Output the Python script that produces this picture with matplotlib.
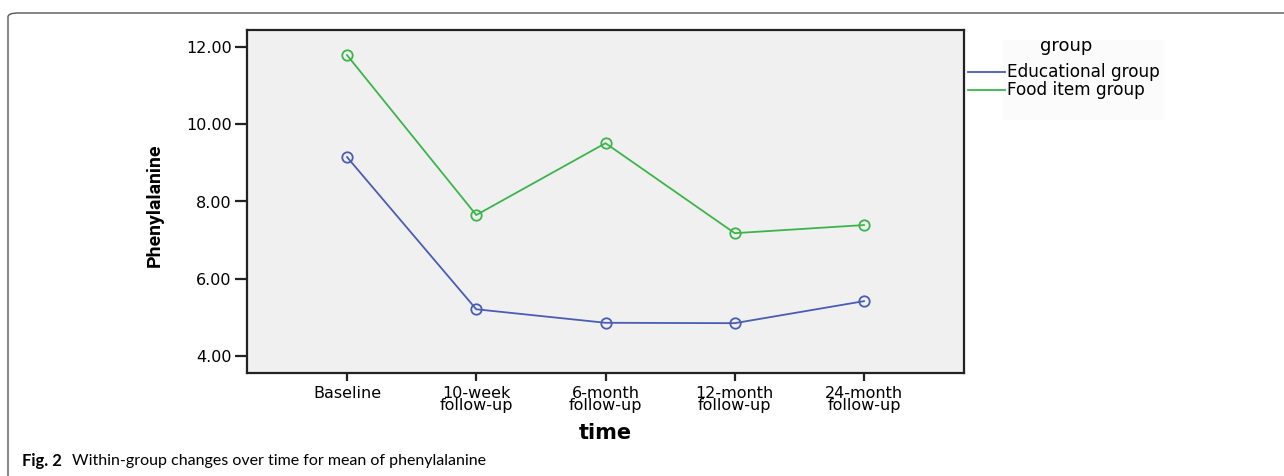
import matplotlib
matplotlib.use("Agg")
import matplotlib.pyplot as plt
from matplotlib.lines import Line2D
from matplotlib.patches import FancyBboxPatch

# data
time_labels = ["Baseline", "10-week\nfollow-up", "6-month\nfollow-up",
               "12-month\nfollow-up", "24-month\nfollow-up"]
group_names = ["Educational group", "Food item group"]
educational = [9.15, 5.21, 4.86, 4.85, 5.42]
food_item = [11.79, 7.65, 9.51, 7.18, 7.39]
y_ticks = [4.0, 6.0, 8.0, 10.0, 12.0]

COLORS = ["#4a5cb4", "#3bb54a"]
W, H = 1284, 476


def fx(px):
    return px / W


def fy(py):
    return 1 - py / H


def main():
    fig = plt.figure(figsize=(12.84, 4.76), dpi=100)

    # outer rounded frame, open to the right and bottom
    frame = FancyBboxPatch((fx(8), fy(520)), fx(1320), fy(13) - fy(520),
                           boxstyle="round,pad=0,rounding_size=0.008",
                           transform=fig.transFigure, fill=False,
                           edgecolor="#555555", linewidth=1.0, clip_on=False)
    fig.add_artist(frame)

    ax = fig.add_axes([fx(247), fy(373), fx(964 - 247), fy(30) - fy(373)])
    ax.set_facecolor("#f0f0f0")

    x = list(range(len(time_labels)))
    for vals, col in zip([educational, food_item], COLORS):
        ax.plot(x, vals, color=col, linewidth=1.3, marker="o", markersize=7.5,
                markerfacecolor="none", markeredgecolor=col, markeredgewidth=1.3)

    ax.set_xlim(-0.774, 4.774)
    ax.set_ylim(3.56, 12.44)
    ax.set_yticks(y_ticks)
    ax.set_yticklabels(["%.2f" % v for v in y_ticks], fontsize=11.5,
                       family="DejaVu Sans")
    ax.set_xticks(x)
    ax.set_xticklabels(time_labels, fontsize=11.5, family="DejaVu Sans",
                       linespacing=0.8)
    ax.tick_params(axis="y", length=9, width=1.6, color="#222222", pad=2)
    ax.tick_params(axis="x", length=6, width=1.6, color="#222222", pad=3)
    for sp in ax.spines.values():
        sp.set_linewidth(1.6)
        sp.set_color("#222222")

    fig.text(fx(605), fy(433), "time", fontsize=15, fontweight="bold",
             family="DejaVu Sans", ha="center", va="center")
    fig.text(fx(155), fy(205), "Phenylalanine", fontsize=14, fontweight="bold",
             family=["Roboto", "DejaVu Sans"], rotation=90,
             ha="center", va="center")

    # legend drawn by hand to sit where SPSS puts it
    leg_bg = FancyBboxPatch((fx(1003), fy(120)), fx(160), fy(40) - fy(120),
                            boxstyle="square,pad=0", transform=fig.transFigure,
                            facecolor="#fbfbfb", edgecolor="none")
    fig.add_artist(leg_bg)
    fig.text(fx(1066), fy(46), "group", fontsize=13, family="DejaVu Sans",
             ha="center", va="center")
    for i, (name, col) in enumerate(zip(group_names, COLORS)):
        yy = 72 + i * 18
        fig.add_artist(Line2D([fx(968), fx(1005)], [fy(yy), fy(yy)],
                              color=col, linewidth=1.3,
                              transform=fig.transFigure))
        fig.text(fx(1007), fy(yy), name, fontsize=12.2, family="DejaVu Sans",
                 ha="left", va="center")

    # caption
    fig.text(fx(22), fy(461), "Fig. 2", fontsize=12, fontweight="bold",
             family="Lato", ha="left", va="center")
    fig.text(fx(72), fy(461), "Within-group changes over time for mean of phenylalanine",
             fontsize=11.5, family="Lato", ha="left", va="center")

    fig.savefig("out.png", dpi=100)


if __name__ == "__main__":
    main()
